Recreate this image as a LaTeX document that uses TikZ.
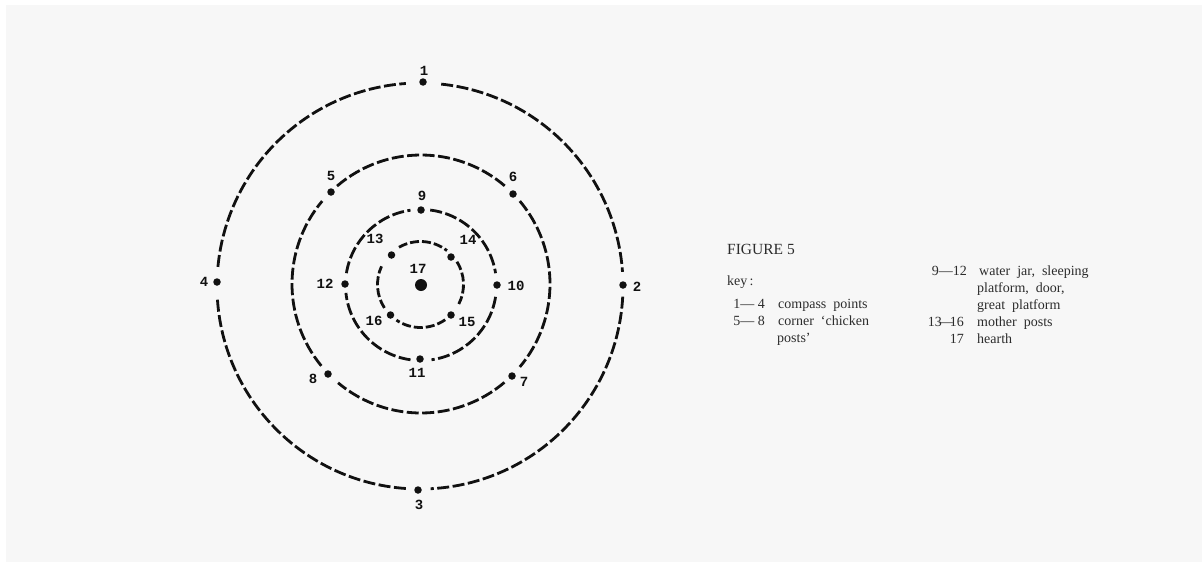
\documentclass[tikz,border=0pt]{standalone}
\usepackage{fontspec}
\setmainfont{Liberation Serif}
\setmonofont{Liberation Mono}
\usetikzlibrary{positioning}
\definecolor{PAPER}{HTML}{F7F7F7}
\definecolor{INK}{HTML}{111111}
\definecolor{KEYINK}{HTML}{2C2C2C}
\tikzset{
  post/.style={circle,fill=INK,inner sep=0pt,minimum size=7.5pt},
  ring/.style={INK,line width=2.8pt,dash pattern=on 12pt off 3.5pt},
  num/.style={text=INK,font=\fontsize{14}{14}\selectfont\ttfamily\bfseries,inner sep=0pt},
  keytxt/.style={text=KEYINK,font=\fontsize{14}{16}\selectfont,inner sep=0pt,anchor=base west},
  keyno/.style={text=KEYINK,font=\fontsize{14}{16}\selectfont,inner sep=0pt,anchor=base east}
}
\begin{document}
\begin{tikzpicture}[x=1pt,y=-1pt]
\useasboundingbox (0,0) rectangle (1202,562);
\fill[white] (0,0) rectangle (1202,562);
\fill[PAPER] (6,5) rectangle (1202,562);
% rings
\foreach \a/\b in {276/356,363/447,454/537,545.4/626}{\draw[ring] (420,286) ++(\a:203) arc[start angle=\a,end angle=\b,radius=203];}
\foreach \a/\b in {229.4/310.5,320/400,409.7/490,500.6/580}{\draw[ring] (421,284) ++(\a:129) arc[start angle=\a,end angle=\b,radius=129];}
\foreach \a/\b in {277/351,369/442,458/534,549/622}{\draw[ring] (421,285) ++(\a:75.5) arc[start angle=\a,end angle=\b,radius=75.5];}
\foreach \a/\b in {240/308,328/387,415/484,507/565}{\draw[ring,dash pattern=on 9pt off 3pt] (420.5,284.5) ++(\a:43) arc[start angle=\a,end angle=\b,radius=43];}
% posts
\foreach \n/\x/\y in {1/423/82,2/623/285,3/418/490,4/217/282,5/331/192,6/513/194,7/512/376,8/328/374,9/421/210,10/497/285,11/420/359,12/345/284,13/391.5/255,14/451/257,15/451/315,16/390.5/315}{\node[post] (p\n) at (\x,\y) {};}
\node[circle,fill=INK,inner sep=0pt,minimum size=12pt] (p17) at (421,285) {};
% numbers
\foreach \n/\x/\y in {1/424/71,2/637/287,3/419/505,4/204/282,5/331/176,6/513/177,7/524/382,8/313/379,9/422/196,10/516/286,11/417/373,12/325/284,13/375/239,14/468/240,15/467/322,16/374/321,17/418/269}{\node[num] (n\n) at (\x,\y) {\n};}
% key
\node[keytxt,font=\fontsize{15.5}{16}\selectfont] (fig) at (727,254) {FIGURE 5};
\node[keytxt] (key) at (727,285) {key\,:};
\node[keyno] (k1) at (765,308) {1--- 4};
\node[keytxt] (t1) at (778,308) {compass\ \ points};
\node[keyno] (k2) at (765,325) {5--- 8};
\node[keytxt] (t2) at (778,325) {corner\ \ `chicken};
\node[keytxt] (t2b) at (777,342) {posts'};
\node[keyno] (k3) at (967,275) {9---12};
\node[keytxt] (t3) at (979,275) {water\ \ jar,\ \ sleeping};
\node[keytxt] (t3b) at (977,292) {platform,\ \ door,};
\node[keytxt] (t3c) at (977,309) {great\ \ platform};
\node[keyno] (k4) at (964,326) {13\kern-3pt---\kern-3pt16};
\node[keytxt] (t4) at (977,326) {mother\ \ posts};
\node[keyno] (k5) at (964,343) {17};
\node[keytxt] (t5) at (977,343) {hearth};
\end{tikzpicture}
\end{document}
